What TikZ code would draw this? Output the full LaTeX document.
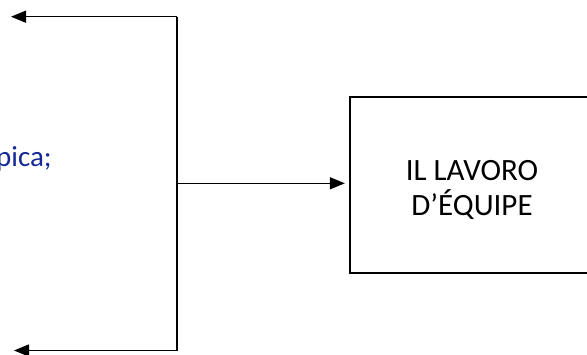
\documentclass[tikz,border=0pt]{standalone}
\usepackage{fontspec}
\setmainfont{Carlito}
\usetikzlibrary{arrows.meta}
\definecolor{txtblue}{RGB}{20,40,150}
\begin{document}
\begin{tikzpicture}[x=1pt,y=1pt,
  conn/.style={draw=black,line width=1.5pt},
  arr/.style={conn,-{Triangle[length=15pt,width=12pt]}},
  boxnode/.style={draw=black,line width=2.3pt,minimum width=244pt,minimum height=176pt,inner sep=0pt},
  boxtext/.style={inner sep=0pt,align=center,font=\fontsize{31}{35}\selectfont}]
\useasboundingbox (0,0) rectangle (587,354);
\clip (0,0) rectangle (587,354);
\node[boxnode] (eq) at (472,168.7) {};
\node[boxtext] (eqtxt) at ([yshift=-4.5pt]eq.center) {IL LAVORO\\D’ÉQUIPE};
\node[anchor=base west,inner sep=0pt,text=txtblue,font=\fontsize{29}{35}\selectfont] (lbl) at (-4,187) {pica;};
\coordinate (t) at (177,337.3);
\coordinate (b) at (177,3.5);
\coordinate (j) at (177,170.7);
\coordinate (tl) at (11,337.3);
\coordinate (bl) at (14,3.5);
\draw[conn] (t) -- (b);
\draw[arr] (t) -- (tl);
\draw[arr] (b) -- (bl);
\draw[arr,shorten >=4pt] (j) -- (j -| eq.west);
\end{tikzpicture}
\end{document}
